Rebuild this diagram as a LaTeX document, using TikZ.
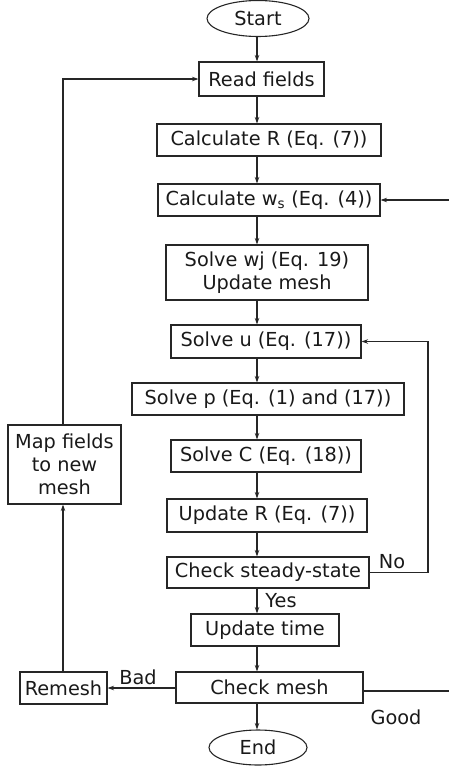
\documentclass[tikz,border=0pt]{standalone}
\usepackage{fontspec}
\setmainfont{DejaVu Sans}
\usetikzlibrary{arrows.meta,shapes.geometric}
\begin{document}
\begin{tikzpicture}[x=1pt,y=-1pt,
  font=\fontsize{19.3}{23}\selectfont,
  lin/.style={draw=black!85,line width=1.1pt},
  box/.style={lin,rectangle,inner sep=0pt,align=center,text=black!90},
  term/.style={lin,ellipse,inner sep=0pt,text=black!90},
  arr/.style={draw=black!85,line width=1.1pt,-{Stealth[length=6.5pt,width=4.5pt]}},
  lbl/.style={inner sep=0pt,text=black!90}]
\useasboundingbox (0,0) rectangle (449,766);
\node[term,minimum width=102pt,minimum height=36pt] (start) at (258,18.5) {Start};
\node[box,minimum width=125pt,minimum height=34pt] (read) at (261.5,79) {Read fields};
\node[box,minimum width=224pt,minimum height=32pt] (calcR) at (269,140) {Calculate R (Eq. (7))};
\node[box,minimum width=222pt,minimum height=32pt] (calcw) at (269,200) {Calculate w\textsubscript{s} (Eq. (4))};
\node[box,minimum width=202pt,minimum height=55pt] (wj) at (267,272.5) {Solve wj (Eq. 19)\\Update mesh};
\node[box,minimum width=190pt,minimum height=33pt] (solu) at (266,341.5) {Solve u (Eq. (17))};
\node[box,minimum width=272pt,minimum height=32pt] (solp) at (268,399) {Solve p (Eq. (1) and (17))};
\node[box,minimum width=190pt,minimum height=32pt] (solC) at (266,456) {Solve C (Eq. (18))};
\node[box,minimum width=200pt,minimum height=33pt] (updR) at (267,515.5) {Update R (Eq. (7))};
\node[box,minimum width=202pt,minimum height=31pt] (chk) at (268,572.5) {Check steady-state};
\node[box,minimum width=148pt,minimum height=32pt] (time) at (265,630) {Update time};
\node[box,minimum width=187pt,minimum height=31pt] (mesh) at (269.5,687.5) {Check mesh};
\node[term,minimum width=98pt,minimum height=35pt] (end) at (258,747.5) {End};
\node[box,minimum width=87pt,minimum height=32pt] (remesh) at (63.5,688) {Remesh};
\node[box,minimum width=113pt,minimum height=79pt] (map) at (64.5,464.5) {Map fields\\to new\\mesh};
\coordinate (ax) at (257,0);
\foreach \a/\b in {start/read,read/calcR,calcR/calcw,calcw/wj,wj/solu,solu/solp,solp/solC,solC/updR,updR/chk,chk/time,time/mesh,mesh/end}
  \draw[arr] (\a.south -| ax) -- (\b.north -| ax);
\coordinate (mapx) at (63,0);
\draw[arr] (remesh.north -| mapx) -- (map.south -| mapx);
\draw[arr] (map.north -| mapx) |- (read.west);
\draw[arr] (mesh.west |- remesh.east) -- (remesh.east);
\coordinate (goodend) at (449,691);
\draw[lin] (mesh.east |- goodend) -- (goodend);
\coordinate (wsin) at (449,200);
\draw[arr] (wsin) -- (calcw.east);
\coordinate (nox) at (428,0);
\draw[arr] (chk.east) -| (nox |- solu.east) -- (solu.east);
\node[lbl] (no) at (392,562) {No};
\node[lbl] (yes) at (281,601) {Yes};
\node[lbl] (bad) at (138,677) {Bad};
\node[lbl] (good) at (396,717) {Good};
\end{tikzpicture}
\end{document}
